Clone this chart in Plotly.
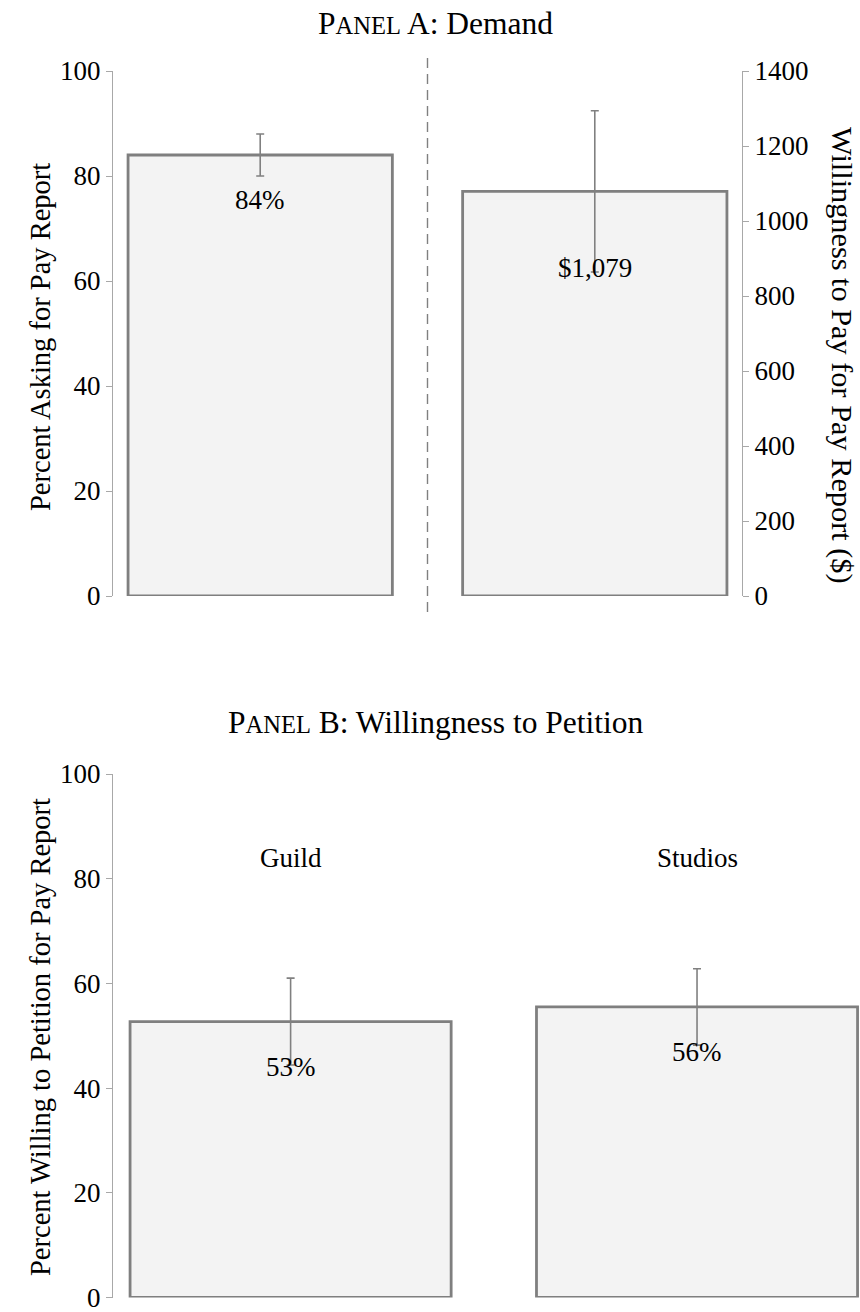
import plotly.graph_objects as go

# ---- data ----
panel_a_categories = [0, 1]
ask_pct = [84]
ask_err = [4.0]
ask_label = ["84%"]
wtp_dollars = [1079]
wtp_err = [215]
wtp_label = ["$1,079"]

panel_b_categories = ["Guild", "Studios"]
petition_pct = [52.7, 55.5]
petition_err = [8.3, 7.3]
petition_label = ["53%", "56%"]

left_ticks_a = [0, 20, 40, 60, 80, 100]
right_ticks_a = [0, 200, 400, 600, 800, 1000, 1200, 1400]
left_ticks_b = [0, 20, 40, 60, 80, 100]

# ---- style ----
W, H = 860, 1312
FONT = "Liberation Serif"
FS_TICK = 27
FS_LAB = 27
FS_AXT = 28.5
FS_AXT_R = 30.3
FS_TTL = 31.5
FS_SC = 24.5
BAR_FILL = "#f3f3f3"
BAR_LINE = "#7f7f7f"
ERR_COL = "#808080"
AXIS_COL = "#a8a8a8"
BAR_W = 0.79


def px_x(p):
    return p / W


def px_y(p):
    return 1 - p / H


a_dom_x = [px_x(113), px_x(742)]
a_dom_y = [px_y(596), px_y(71)]
b_dom_x = [px_x(113), 1.0]
b_dom_y = [px_y(1297.5), px_y(774)]

fig = go.Figure()

bar_style = dict(marker=dict(color=BAR_FILL, line=dict(color=BAR_LINE, width=2.8)),
                 width=BAR_W, showlegend=False, hoverinfo="skip")

fig.add_trace(go.Bar(x=[panel_a_categories[0]], y=ask_pct, xaxis="x", yaxis="y",
                     error_y=dict(type="data", array=ask_err, color=ERR_COL,
                                  thickness=1.6, width=4),
                     **bar_style))
fig.add_trace(go.Bar(x=[panel_a_categories[1]], y=wtp_dollars, xaxis="x", yaxis="y2",
                     error_y=dict(type="data", array=wtp_err, color=ERR_COL,
                                  thickness=1.6, width=4),
                     **bar_style))
fig.add_trace(go.Bar(x=[0, 1], y=petition_pct, xaxis="x2", yaxis="y3",
                     error_y=dict(type="data", array=petition_err, color=ERR_COL,
                                  thickness=1.6, width=4),
                     **bar_style))

yaxis_common = dict(showgrid=False, zeroline=False, showline=True, linecolor=AXIS_COL,
                    linewidth=1.2, ticks="outside", ticklen=6, tickcolor=AXIS_COL,
                    tickwidth=1.2, automargin=False, ticklabeloverflow="allow",
                    tickfont=dict(family=FONT, size=FS_TICK, color="black"))

a_left_range = [0, 100]
a_right_range = [0, 1400]
b_range = [0, 100]

fig.update_layout(
    template="none",
    width=W, height=H,
    margin=dict(l=0, r=0, t=0, b=0, pad=0, autoexpand=False),
    paper_bgcolor="white", plot_bgcolor="white",
    barmode="overlay",
    font=dict(family=FONT, size=FS_LAB, color="black"),
    xaxis=dict(domain=a_dom_x, range=[-0.44, 1.44], visible=False, anchor="y",
               automargin=False),
    yaxis=dict(domain=a_dom_y, range=a_left_range, tickvals=left_ticks_a, anchor="x",
               **yaxis_common),
    yaxis2=dict(range=a_right_range, tickvals=right_ticks_a, overlaying="y", side="right",
                anchor="x", **yaxis_common),
    xaxis2=dict(domain=b_dom_x, range=[-0.437, 1.401], visible=False, anchor="y3",
                automargin=False),
    yaxis3=dict(domain=b_dom_y, range=b_range, tickvals=left_ticks_b, anchor="x2",
                **yaxis_common),
)

# dashed separator between the two panel A bars
fig.add_shape(type="line", xref="x", yref="paper", x0=0.5, x1=0.5,
              y0=px_y(612), y1=px_y(55),
              line=dict(color="#808080", width=1.4, dash="10px,6px"))

ann = []
# value labels
ann.append(dict(x=0, y=75.4, xref="x", yref="y", text=ask_label[0], size=FS_LAB))
ann.append(dict(x=1, y=875, xref="x", yref="y2", text=wtp_label[0], size=FS_LAB))
ann.append(dict(x=0, y=44.0, xref="x2", yref="y3", text=petition_label[0], size=FS_LAB))
ann.append(dict(x=1, y=46.9, xref="x2", yref="y3", text=petition_label[1], size=FS_LAB))
# category labels panel B
for i, c in enumerate(panel_b_categories):
    ann.append(dict(x=i, y=84, xref="x2", yref="y3", text=c, size=FS_LAB))
# panel titles
ann.append(dict(x=px_x(435), y=px_y(23), xref="paper", yref="paper", size=FS_TTL,
                text=f"P<span style='font-size:{FS_SC}px'>ANEL</span> A: Demand"))
ann.append(dict(x=px_x(436), y=px_y(722), xref="paper", yref="paper", size=FS_TTL,
                text=f"P<span style='font-size:{FS_SC}px'>ANEL</span> B: Willingness to Petition"))
# axis titles
ann.append(dict(x=px_x(40), y=px_y(337), xref="paper", yref="paper", textangle=-90,
                text="Percent Asking for Pay Report", size=FS_AXT))
ann.append(dict(x=px_x(842), y=px_y(355), xref="paper", yref="paper", textangle=90,
                text="Willingness to Pay for Pay Report ($)", size=FS_AXT_R))
ann.append(dict(x=px_x(40), y=px_y(1037), xref="paper", yref="paper", textangle=-90,
                text="Percent Willing to Petition for Pay Report", size=FS_AXT))

for a in ann:
    size = a.pop("size")
    a.update(showarrow=False, xanchor="center", yanchor="middle",
             font=dict(family=FONT, size=size, color="black"))
    fig.add_annotation(**a)

fig.write_html(
    "out.html",
    config={"displayModeBar": False},
    post_script="document.body.style.margin='0';document.body.style.overflow='hidden';",
)
